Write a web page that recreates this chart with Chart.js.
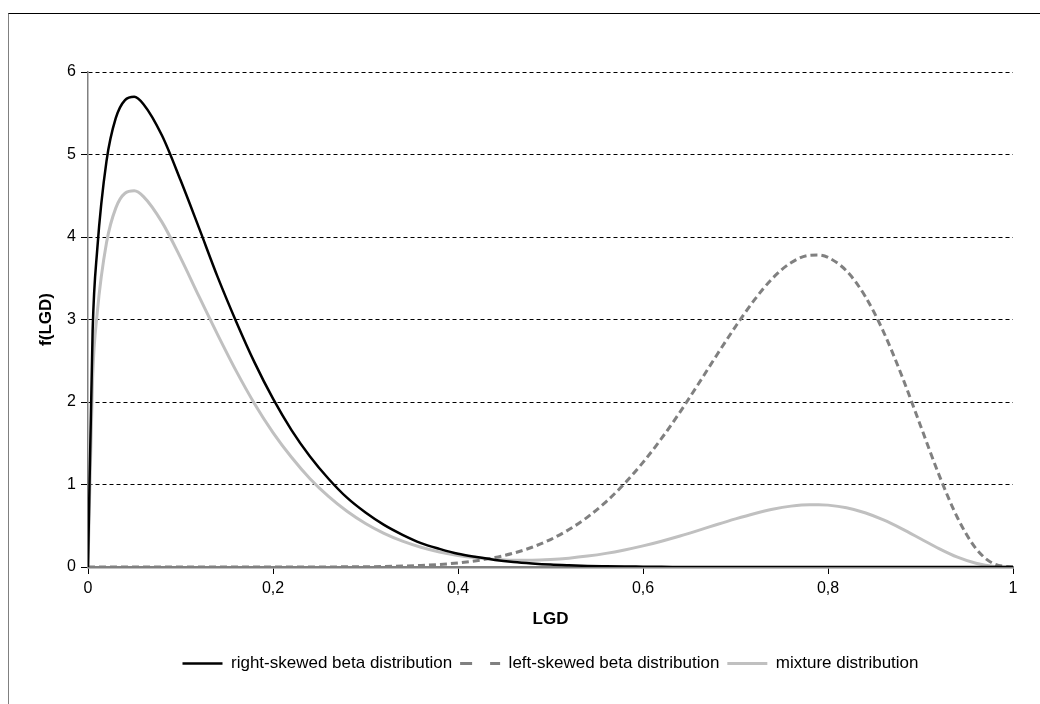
<!DOCTYPE html>
<html>
<head>
<meta charset="utf-8">
<title>LGD distributions</title>
<script src="https://cdn.jsdelivr.net/npm/chart.js@4.4.0/dist/chart.umd.min.js"></script>
<style>
    html, body { margin: 0; padding: 0; background: #fff; overflow: hidden; }
    #wrap { position: relative; width: 1040px; height: 704px; }
    #frame { position: absolute; left: 8px; top: 13px; width: 1100px; height: 800px;
             border-top: 1px solid #000; border-left: 1px solid #808080; }
    canvas { position: absolute; left: 0; top: 0; }
</style>
</head>
<body>
<div id="wrap">
    <div id="frame"></div>
    <canvas id="lgdChart" width="1040" height="704"></canvas>
</div>
<script>
// LGD values (x) shared by all three curves
const lgdValues = [0, 0.005, 0.01, 0.02, 0.03, 0.04, 0.05, 0.06,
    0.08, 0.10, 0.12, 0.14, 0.16, 0.18, 0.20, 0.22, 0.24, 0.26, 0.28, 0.30,
    0.32, 0.34, 0.36, 0.38, 0.40, 0.42, 0.44, 0.46, 0.48, 0.50, 0.52, 0.54,
    0.56, 0.58, 0.60, 0.62, 0.64, 0.66, 0.68, 0.70, 0.72, 0.74, 0.76, 0.78,
    0.79, 0.80, 0.82, 0.84, 0.86, 0.88, 0.90, 0.92, 0.94, 0.96, 0.98, 1.00];

const rightSkewed = [0, 2.86, 3.85, 4.92, 5.44, 5.66, 5.70, 5.61,
    5.23, 4.69, 4.11, 3.52, 2.98, 2.48, 2.04, 1.66, 1.34, 1.07, 0.84, 0.66,
    0.51, 0.39, 0.29, 0.22, 0.16, 0.12, 0.086, 0.061, 0.043, 0.029, 0.020, 0.013,
    0.009, 0.006, 0.004, 0.002, 0.001, 0, 0, 0, 0, 0, 0, 0,
    0, 0, 0, 0, 0, 0, 0, 0, 0, 0, 0, 0];

const leftSkewed = [0, 0, 0, 0, 0, 0, 0, 0,
    0, 0, 0, 0, 0, 0, 0, 0, 0, 0.001, 0.002, 0.003,
    0.006, 0.011, 0.019, 0.031, 0.050, 0.077, 0.115, 0.168, 0.239, 0.333, 0.454, 0.605,
    0.790, 1.011, 1.268, 1.558, 1.878, 2.221, 2.573, 2.914, 3.231, 3.499, 3.689, 3.779,
    3.782, 3.752, 3.589, 3.285, 2.851, 2.312, 1.713, 1.117, 0.597, 0.223, 0.035, 0];

const mixture = [0, 2.29, 3.08, 3.93, 4.35, 4.53, 4.56, 4.49,
    4.18, 3.75, 3.28, 2.82, 2.38, 1.98, 1.63, 1.33, 1.07, 0.855, 0.675, 0.527,
    0.408, 0.313, 0.239, 0.182, 0.140, 0.111, 0.091, 0.082, 0.082, 0.090, 0.107, 0.132,
    0.165, 0.207, 0.256, 0.313, 0.376, 0.444, 0.515, 0.583, 0.646, 0.700, 0.738, 0.756,
    0.756, 0.750, 0.718, 0.657, 0.570, 0.462, 0.343, 0.223, 0.119, 0.045, 0.007, 0];

const xTicks = [0, 0.2, 0.4, 0.6, 0.8, 1];
const yTicks = [0, 1, 2, 3, 4, 5, 6];

const FONT = "'Liberation Sans', Arial, sans-serif";

function toPoints(ys) {
    return lgdValues.map((x, i) => ({ x: x, y: ys[i] }));
}

const ctx = document.getElementById('lgdChart').getContext('2d');
new Chart(ctx, {
    type: 'line',
    data: {
        datasets: [
            {
                label: 'right-skewed beta distribution',
                data: toPoints(rightSkewed),
                borderColor: '#000000',
                borderWidth: 2.5,
                pointRadius: 0,
                pointStyle: 'line',
                cubicInterpolationMode: 'monotone',
                fill: false
            },
            {
                label: 'left-skewed beta distribution',
                data: toPoints(leftSkewed),
                borderColor: '#808080',
                borderWidth: 3,
                borderDash: [7, 4],
                pointRadius: 0,
                pointStyle: 'line',
                cubicInterpolationMode: 'monotone',
                fill: false
            },
            {
                label: 'mixture distribution',
                data: toPoints(mixture),
                borderColor: '#c0c0c0',
                borderWidth: 3,
                pointRadius: 0,
                pointStyle: 'line',
                cubicInterpolationMode: 'monotone',
                fill: false
            }
        ]
    },
    options: {
        responsive: false,
        animation: false,
        devicePixelRatio: 1,
        layout: { padding: { left: 32, right: 27, top: 72, bottom: 22 } },
        scales: {
            x: {
                type: 'linear',
                min: 0,
                max: 1,
                afterBuildTicks: s => { s.ticks = xTicks.map(v => ({ value: v })); },
                afterFit: s => { s.height = 80; },
                ticks: {
                    callback: v => String(v).replace('.', ','), // decimal comma
                    color: '#000',
                    font: { family: FONT, size: 16 },
                    padding: 5,
                    maxRotation: 0
                },
                grid: { drawOnChartArea: false, tickLength: 7, tickColor: '#000', tickWidth: 1 },
                border: { color: '#808080', width: 2.5 },
                title: {
                    display: true,
                    text: 'LGD',
                    color: '#000',
                    font: { family: FONT, size: 17, weight: 'bold' },
                    padding: { top: 0, bottom: 17 }
                }
            },
            y: {
                min: 0,
                max: 6,
                afterBuildTicks: s => { s.ticks = yTicks.map(v => ({ value: v })); },
                afterFit: s => { s.width = 56; },
                ticks: {
                    color: '#000',
                    font: { family: FONT, size: 16 },
                    padding: 5
                },
                grid: {
                    // no dashed line on the zero line, the x axis sits there
                    color: c => (c.tick && c.tick.value === 0) ? 'rgba(0,0,0,0)' : '#000',
                    lineWidth: 1,
                    tickLength: 7,
                    tickColor: '#000',
                    tickWidth: 1
                },
                border: { color: '#808080', width: 1.5, dash: [4, 3] },
                title: {
                    display: true,
                    text: 'f(LGD)',
                    color: '#000',
                    font: { family: FONT, size: 17, weight: 'bold' },
                    padding: { top: 4, bottom: 0 }
                }
            }
        },
        plugins: {
            tooltip: { enabled: false },
            legend: {
                position: 'bottom',
                fullSize: false,
                labels: {
                    usePointStyle: true,
                    pointStyleWidth: 40,
                    padding: 8,
                    color: '#000',
                    font: { family: FONT, size: 17 },
                    generateLabels: function(chart) {
                        const items = Chart.defaults.plugins.legend.labels.generateLabels(chart);
                        items[1].lineDash = [12, 18];
                        return items;
                    }
                }
            }
        }
    }
});
</script>
</body>
</html>
